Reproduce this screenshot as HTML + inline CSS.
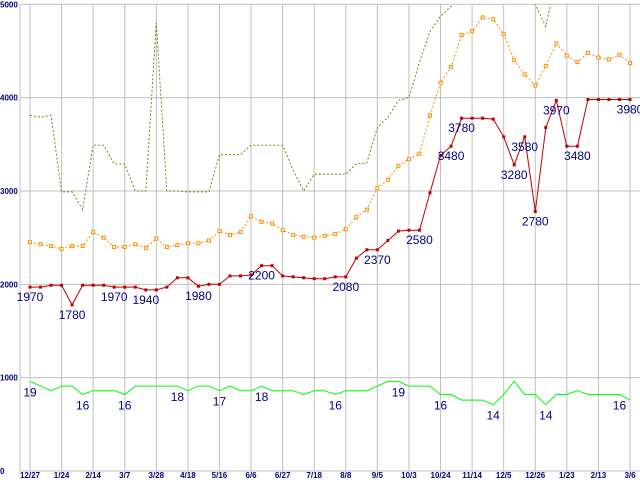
<!DOCTYPE html>
<html><head><meta charset="utf-8"><style>
html,body{margin:0;padding:0;background:#fff;}
svg{display:block;font-family:"Liberation Sans",sans-serif;}
</style></head><body>
<svg id="chart" width="640" height="480"></svg>
<script>
const xLabels=["12/27","1/24","2/14","3/7","3/28","4/18","5/16","6/6","6/27","7/18","8/8","9/5","10/3","10/24","11/14","12/5","12/26","1/23","2/13","3/6"];
const yTicks=[0,1000,2000,3000,4000,5000];
const redValues=[1970,1970,1990,1990,1780,1990,1990,1990,1970,1970,1970,1940,1940,1970,2070,2070,1980,2000,2000,2090,2090,2100,2200,2200,2090,2080,2070,2060,2060,2080,2080,2280,2370,2370,2470,2570,2580,2580,2980,3380,3480,3780,3780,3780,3770,3580,3280,3580,2780,3680,3970,3480,3480,3980,3980,3980,3980,3980];
const orangeValues=[2450,2430,2410,2380,2410,2410,2560,2500,2400,2400,2430,2390,2490,2400,2420,2440,2440,2470,2570,2530,2560,2730,2670,2650,2580,2530,2510,2500,2520,2540,2590,2720,2800,3030,3120,3270,3340,3400,3810,4160,4330,4670,4710,4860,4840,4680,4400,4250,4130,4340,4580,4450,4380,4480,4430,4410,4460,4370];
const oliveValues=[3810,3790,3810,2990,2990,2800,3490,3490,3290,3290,3000,3000,4800,3000,3000,2990,2990,2990,3390,3390,3390,3490,3490,3490,3490,3220,3000,3180,3180,3180,3180,3290,3300,3680,3790,3970,4000,4380,4710,4870,4980,5300,5400,5400,5400,5400,5400,5300,5000,4760,5300,5400,5400,5400,5400,5400,5400,5400];
const greenValues=[960,910,860,910,910,820,860,860,860,820,910,910,910,910,910,860,910,910,860,910,860,860,910,860,860,860,820,860,860,820,860,860,860,910,960,960,910,910,910,820,820,760,760,760,710,820,960,820,820,710,820,820,860,820,820,820,820,760];
const redLabelIdx=[0,4,8,11,16,22,30,33,37,40,41,46,47,48,50,52,57];
const greenLabelIdx=[0,5,9,14,18,22,29,35,39,44,49,56];
const greenLabels=["19","16","16","18","17","18","16","19","16","14","14","16"];

const NS="http://www.w3.org/2000/svg";
const svg=document.getElementById('chart');
const X0=30,X1=630,Y0=471,Y5=4.3;
const n=redValues.length;
function xs(i){return X0+i*(X1-X0)/(n-1);}
function ys(v){return Y0-(v/5000)*(Y0-Y5);}
function mk(tag,attrs,parent){const e=document.createElementNS(NS,tag);for(const k in attrs)e.setAttribute(k,attrs[k]);(parent||svg).appendChild(e);return e;}

const defs=mk('defs',{});
const cp=mk('clipPath',{id:'plot'},defs);
mk('rect',{x:20,y:Y5,width:620,height:Y0-Y5},cp);

const grid=mk('g',{});


mk('line',{x1:20,y1:Y5,x2:20,y2:Y0,stroke:'#c0c0c0','stroke-width':1},grid);
xLabels.forEach((l,k)=>{
  const x=X0+k*(X1-X0)/(xLabels.length-1);
  mk('line',{x1:x,y1:Y5,x2:x,y2:Y0,stroke:'#c0c0c0','stroke-width':1},grid);
  const t=mk('text',{x:x,y:478,'font-size':8,'font-weight':'bold',fill:'#000080','text-anchor':'middle'});
  t.textContent=l;
  
  
});
yTicks.forEach(v=>{
  const y=ys(v);
  mk('line',{x1:20,y1:y,x2:640,y2:y,stroke:'#c0c0c0','stroke-width':1},grid);
  const t=mk('text',{x:0,y:y+3,'font-size':8,'font-weight':'bold',fill:'#000080'});
  t.textContent=v;
  
  
});

function series(vals,color,dash,name){
  const g=mk('g',{'clip-path':'url(#plot)'});
  
  
  const pts=vals.map((v,i)=>xs(i).toFixed(1)+','+ys(v).toFixed(1)).join(' ');
  const a={points:pts,fill:'none',stroke:color,'stroke-width':1};
  if(dash)a['stroke-dasharray']=dash;
  mk('polyline',a,g);
  return g;
}
series(oliveValues,'#808000','2,2','olive-series');
const og=series(orangeValues,'#ff8c00','2,2','orange-series');
orangeValues.forEach((v,i)=>{
  const r=mk('rect',{x:xs(i)-1.5,y:ys(v)-1.5,width:3,height:3,fill:'#fff',stroke:'#ff8c00','stroke-width':1},og);
  
  
});
const rg=series(redValues,'#c00000',null,'red-series');
redValues.forEach((v,i)=>{
  const r=mk('rect',{x:xs(i)-1.5,y:ys(v)-1.5,width:3,height:3,fill:'#c00000'},rg);
  
  
});
series(greenValues,'#00ff00',null,'green-series');

redLabelIdx.forEach(i=>{
  const t=mk('text',{x:xs(i),y:ys(redValues[i])+14,'font-size':12,fill:'#000080','text-anchor':'middle'});
  t.textContent=redValues[i];
  
  
});
greenLabelIdx.forEach((i,k)=>{
  const t=mk('text',{x:xs(i),y:ys(greenValues[i])+15,'font-size':12,fill:'#000080','text-anchor':'middle'});
  t.textContent=greenLabels[k];
  
  
});
</script>
</body></html>
